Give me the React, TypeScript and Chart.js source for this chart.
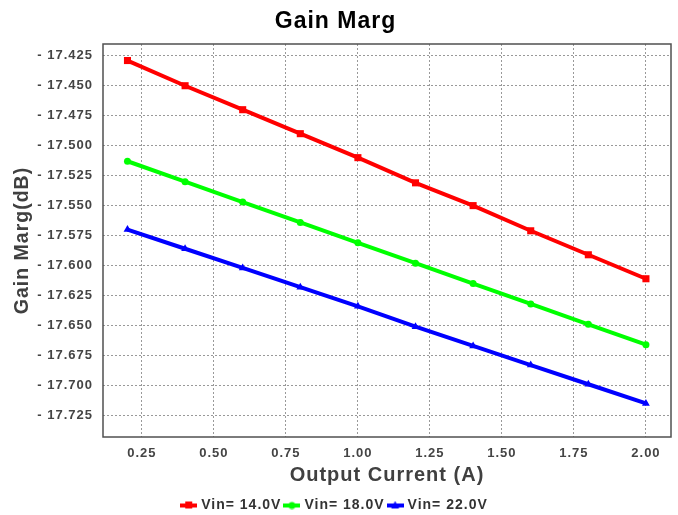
import React, { useEffect, useRef } from "react";
import { Chart, registerables } from "chart.js";

Chart.register(...registerables);

const currents = [0.2, 0.4, 0.6, 0.8, 1.0, 1.2, 1.4, 1.6, 1.8, 2.0];
const vin14 = [-17.429, -17.450, -17.470, -17.490, -17.510, -17.531, -17.550, -17.571, -17.591, -17.611];
const vin18 = [-17.513, -17.530, -17.547, -17.564, -17.581, -17.598, -17.615, -17.632, -17.649, -17.666];
const vin22 = [-17.570, -17.586, -17.602, -17.618, -17.634, -17.651, -17.667, -17.683, -17.699, -17.715];
const seriesNames = ["Vin= 14.0V", "Vin= 18.0V", "Vin= 22.0V"];
const seriesColors = ["#ff0000", "#00ff00", "#0000ff"];
const seriesMarkers = ["rect", "circle", "triangle"];

const FONT = "'Liberation Sans', Arial, sans-serif";

const spacingPlugin = {
  id: "spacing",
  beforeUpdate(chart: any) { chart.ctx.letterSpacing = "1px"; },
  beforeLayout(chart: any) { chart.ctx.letterSpacing = "1px"; },
  beforeDraw(chart: any) { chart.ctx.letterSpacing = "1px"; },
};

const framePlugin = {
  id: "frame",
  afterDraw(chart: any) {
    const { ctx, chartArea } = chart;
    ctx.save();
    ctx.strokeStyle = "#505050";
    ctx.lineWidth = 1.5;
    ctx.setLineDash([]);
    ctx.strokeRect(chartArea.left, chartArea.top, chartArea.right - chartArea.left, chartArea.bottom - chartArea.top);
    ctx.restore();
  },
};

function legendIcon(color: string, marker: string): HTMLCanvasElement {
  const c = document.createElement("canvas");
  c.width = 17;
  c.height = 9;
  const g = c.getContext("2d") as CanvasRenderingContext2D;
  g.fillStyle = color;
  g.fillRect(0, 3, 17, 4);
  if (marker === "rect") g.fillRect(5, 1, 7, 7);
  else if (marker === "circle") { g.beginPath(); g.arc(8.5, 5, 3.5, 0, Math.PI * 2); g.fill(); }
  else { g.beginPath(); g.moveTo(8.5, 0.5); g.lineTo(12.5, 8); g.lineTo(4.5, 8); g.closePath(); g.fill(); }
  return c;
}

export default function App() {
  const ref = useRef<HTMLCanvasElement | null>(null);
  useEffect(() => {
    if (!ref.current) return;
    const radii = [5, 3.5, 4.5];
    const all = [vin14, vin18, vin22];
    const icons = seriesColors.map((c, i) => legendIcon(c, seriesMarkers[i]));
    const datasets = all.map((vals, k) => ({
      label: seriesNames[k],
      data: currents.map((x, i) => ({ x, y: vals[i] })),
      borderColor: seriesColors[k],
      backgroundColor: seriesColors[k],
      borderWidth: 4,
      pointStyle: seriesMarkers[k],
      pointRadius: radii[k],
      pointBorderWidth: 0,
      pointBackgroundColor: seriesColors[k],
      pointBorderColor: seriesColors[k],
      tension: 0,
    }));
    const chart = new Chart(ref.current, {
      type: "line",
      data: { datasets },
      options: {
        animation: false,
        responsive: false,
        maintainAspectRatio: false,
        layout: { padding: { left: 0, right: 7, top: 0, bottom: -7 } },
        plugins: {
          title: {
            display: true,
            text: "Gain Marg",
            color: "#000000",
            font: { family: FONT, size: 23, weight: "bold" },
            padding: { top: 8, bottom: 8.4 },
          },
          legend: {
            position: "bottom",
            labels: {
              color: "#333333",
              font: { family: FONT, size: 14, weight: "bold" },
              usePointStyle: true,
              pointStyleWidth: 11,
              padding: 5,
              generateLabels: (ch: any) =>
                ch.data.datasets.map((d: any, i: number) => ({
                  text: d.label,
                  fillStyle: d.borderColor,
                  strokeStyle: d.borderColor,
                  fontColor: "#333333",
                  lineWidth: 0,
                  pointStyle: icons[i],
                  hidden: false,
                  datasetIndex: i,
                })),
            },
          },
          tooltip: { enabled: false },
        },
        scales: {
          x: {
            type: "linear",
            min: 0.115,
            max: 2.087,
            afterFit: (s: any) => { s.height = 56; },
            ticks: {
              stepSize: 0.25,
              includeBounds: false,
              color: "#444444",
              font: { family: FONT, size: 13, weight: "bold" },
              padding: 9,
              callback: (v: any) => Number(v).toFixed(2),
            },
            grid: { color: "#999999", drawTicks: false, lineWidth: 1 },
            border: { display: false, dash: [2, 2] },
            title: {
              display: true,
              text: "Output Current (A)",
              color: "#404040",
              font: { family: FONT, size: 20, weight: "bold" },
              padding: { top: 0, bottom: 6 },
            },
          },
          y: {
            type: "linear",
            min: -17.743,
            max: -17.4152,
            afterFit: (s: any) => { s.width = 103; },
            ticks: {
              stepSize: 0.025,
              includeBounds: false,
              color: "#444444",
              font: { family: FONT, size: 13, weight: "bold" },
              padding: 10,
              callback: (v: any) => "- " + Math.abs(Number(v)).toFixed(3),
            },
            grid: { color: "#999999", drawTicks: false, lineWidth: 1 },
            border: { display: false, dash: [2, 2] },
            title: {
              display: true,
              text: "Gain Marg(dB)",
              color: "#404040",
              font: { family: FONT, size: 19.5, weight: "bold" },
              padding: { top: 11, bottom: 0 },
            },
          },
        },
      } as any,
      plugins: [spacingPlugin, framePlugin],
    });
    return () => chart.destroy();
  }, []);
  return (
    <div style={{ position: "absolute", left: 0, top: 0, width: 678, height: 515, background: "#fff" }}>
      <canvas ref={ref} width={678} height={515} style={{ width: 678, height: 515 }} />
    </div>
  );
}
